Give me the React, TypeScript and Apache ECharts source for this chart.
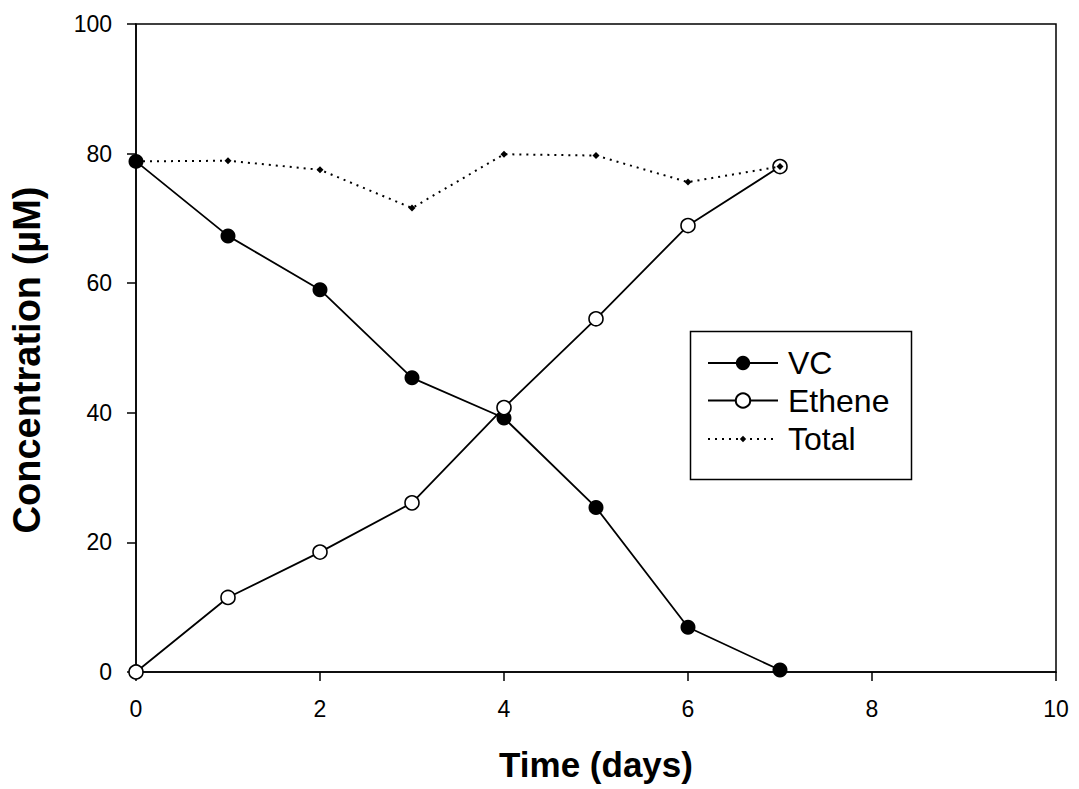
import React, { useEffect, useRef } from "react";
import * as echarts from "echarts";

const days = [0, 1, 2, 3, 4, 5, 6, 7];
const vcValues = [78.8, 67.3, 59.0, 45.4, 39.2, 25.4, 6.9, 0.3];
const etheneValues = [0, 11.5, 18.5, 26.1, 40.8, 54.5, 68.9, 78.0];
const totalValues = [78.8, 78.9, 77.5, 71.6, 79.9, 79.7, 75.6, 78.0];
const xTicks = { min: 0, max: 10, interval: 2 };
const yTicks = { min: 0, max: 100, interval: 20 };

const FONT = "'Liberation Sans', Arial, Helvetica, sans-serif";

export default function App() {
  const ref = useRef<HTMLDivElement>(null);
  useEffect(() => {
    document.body.style.margin = "0";
    if (!ref.current) return;
    const chart = echarts.init(ref.current, undefined, { renderer: "svg" });
    const pair = (vals: number[]) => days.map((d, i) => [d, vals[i]]);
    const axisCommon = {
      axisLine: { show: true, onZero: false, lineStyle: { color: "#000", width: 1.5 } },
      axisTick: { show: true, inside: false, length: 9, lineStyle: { color: "#000", width: 1.5 } },
      splitLine: { show: false },
      axisLabel: { color: "#000", fontSize: 23, fontFamily: FONT },
    };
    chart.setOption({
      animation: false,
      backgroundColor: "#fff",
      grid: {
        left: 136,
        top: 24,
        right: 23,
        bottom: 117,
        show: true,
        borderColor: "#000",
        borderWidth: 1.5,
        containLabel: false,
        outerBoundsMode: "none",
      },
      xAxis: {
        type: "value",
        ...xTicks,
        ...axisCommon,
        axisLabel: { ...axisCommon.axisLabel, margin: 25 },
        name: "Time (days)",
        nameLocation: "middle",
        nameGap: 75,
        nameTextStyle: { color: "#000", fontSize: 35, fontWeight: "bold", fontFamily: FONT },
      },
      yAxis: {
        type: "value",
        ...yTicks,
        ...axisCommon,
        axisLabel: { ...axisCommon.axisLabel, margin: 24 },
        name: "Concentration (µM)",
        nameLocation: "middle",
        nameGap: 90,
        nameTextStyle: {
          color: "#000",
          fontSize: 38,
          fontWeight: "bold",
          fontFamily: FONT,
          padding: [0, 24, 0, 0],
        },
      },
      legend: [
        {
          data: ["VC", "Ethene"],
          orient: "vertical",
          left: 707,
          top: 347,
          padding: 0,
          itemWidth: 70,
          itemHeight: 18,
          itemGap: 5.5,
          textStyle: { color: "#000", fontSize: 32, fontFamily: FONT, padding: [0, 0, 0, 5] },
        },
        {
          data: ["Total"],
          orient: "vertical",
          left: 707,
          top: 423,
          padding: 0,
          itemWidth: 70,
          itemHeight: 8,
          textStyle: { color: "#000", fontSize: 32, fontFamily: FONT, padding: [0, 0, 0, 5] },
        },
      ],
      graphic: [
        {
          type: "rect",
          left: 688,
          top: 329,
          shape: { width: 221, height: 148 },
          style: { fill: "none", stroke: "#000", lineWidth: 1.5 },
          z: 100,
        },
      ],
      series: [
        {
          name: "VC",
          type: "line",
          data: pair(vcValues),
          symbol: "circle",
          symbolSize: 15,
          lineStyle: { color: "#000", width: 1.8 },
          itemStyle: { color: "#000", borderColor: "#000", borderWidth: 0 },
          z: 3,
        },
        {
          name: "Ethene",
          type: "line",
          data: pair(etheneValues),
          symbol: "circle",
          symbolSize: 14,
          showAllSymbol: true,
          lineStyle: { color: "#000", width: 1.8 },
          itemStyle: { color: "#fff", borderColor: "#000", borderWidth: 1.6 },
          z: 4,
        },
        {
          name: "Total",
          type: "line",
          data: pair(totalValues),
          symbol: "diamond",
          symbolSize: 7,
          lineStyle: { color: "#000", width: 2, type: [2, 5] },
          itemStyle: { color: "#000" },
          z: 5,
        },
      ],
    });
    return () => chart.dispose();
  }, []);
  return <div ref={ref} style={{ width: 1079, height: 789 }} />;
}
